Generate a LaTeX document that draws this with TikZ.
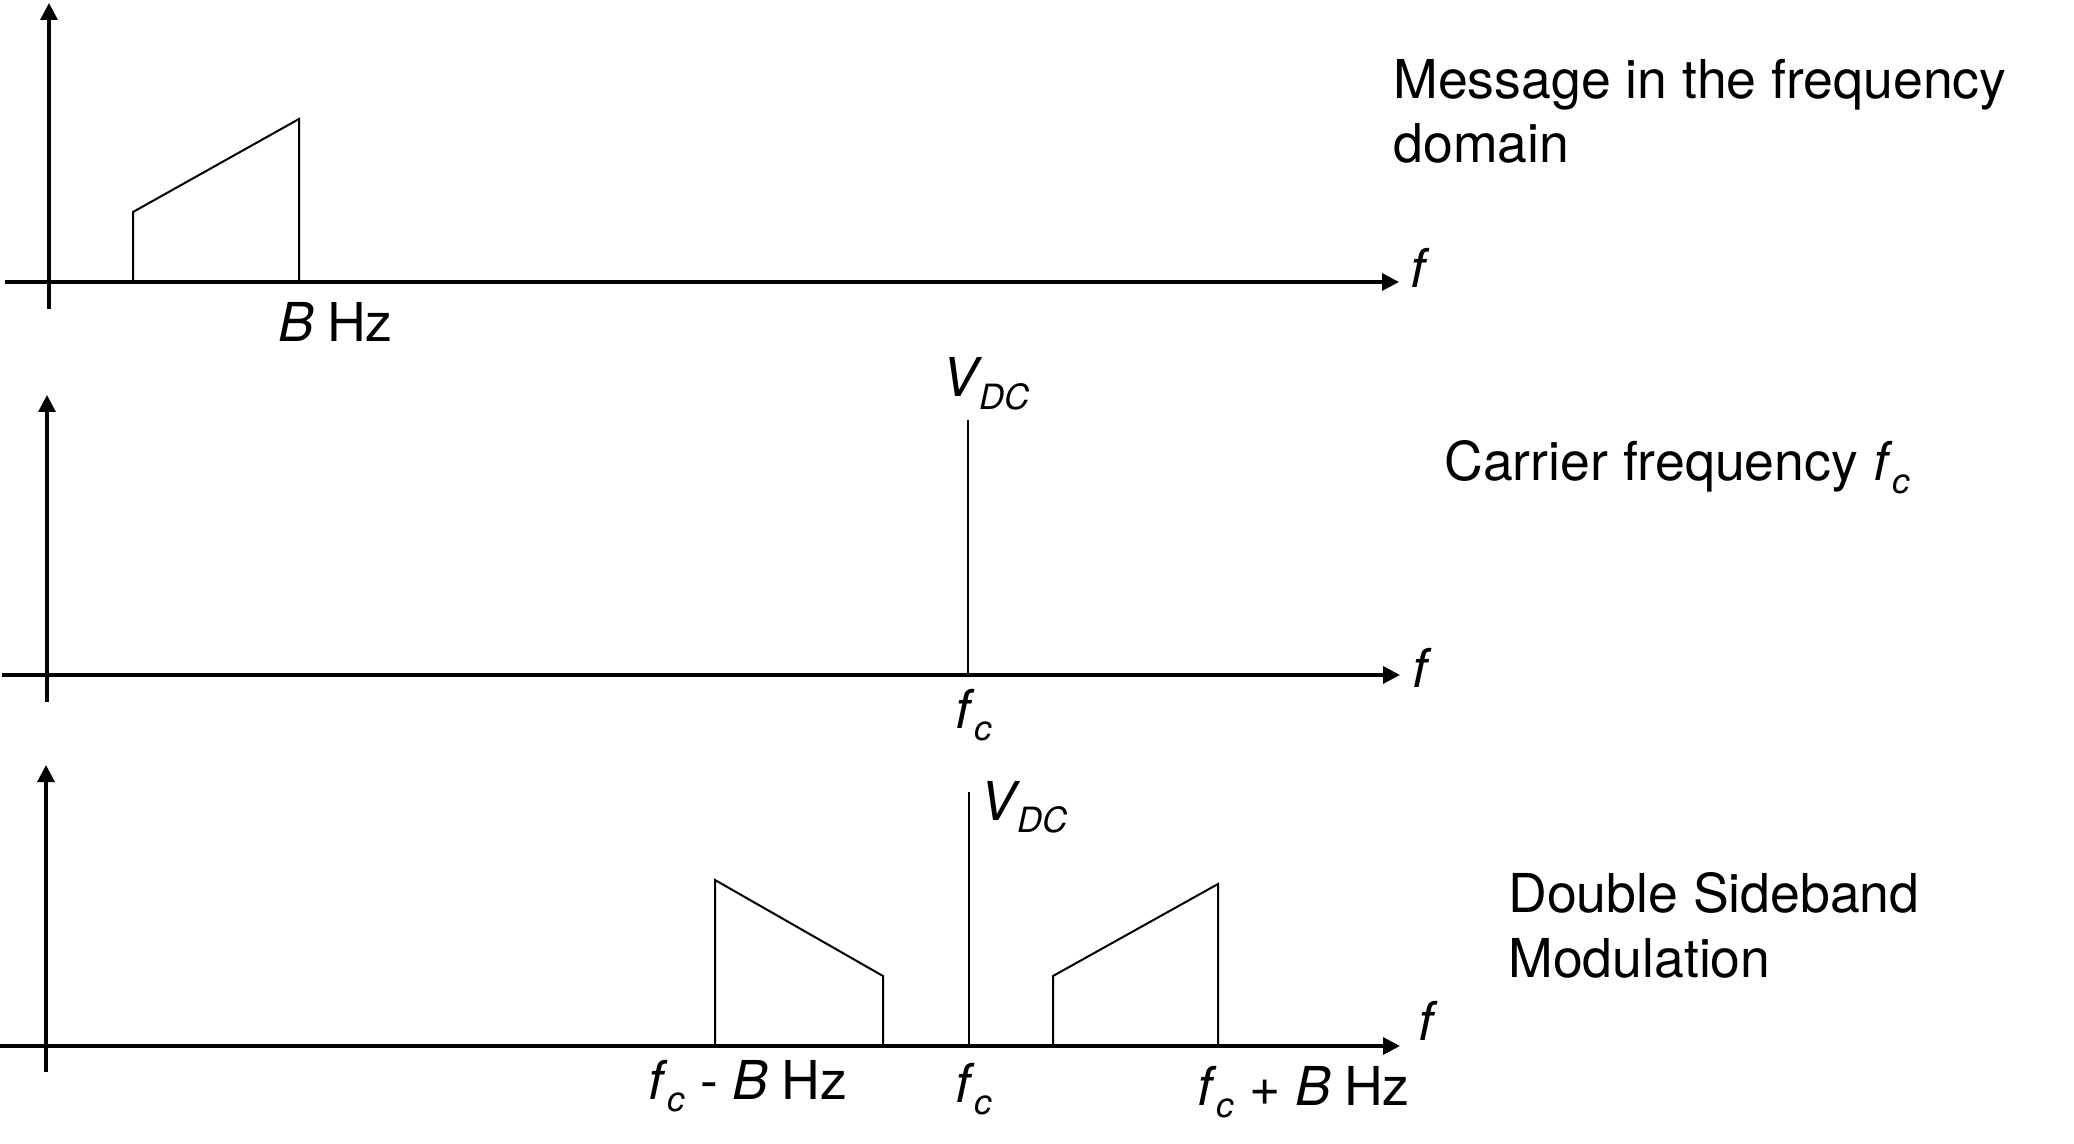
\documentclass[tikz,border=0pt]{standalone}
\usepackage{fontspec}
\setmainfont{TeX Gyre Heros}
\usetikzlibrary{arrows.meta}
\newcommand\subscr[1]{\raisebox{-6.2pt}{\fontsize{17.4pt}{17.4pt}\selectfont\itshape #1}}
\begin{document}
\begin{tikzpicture}[x=0.5pt,y=-0.5pt,
  axis/.style={line width=1.6pt,-{Triangle[length=8.5pt,width=8.5pt]}},
  spec/.style={line width=1pt,line join=miter},
  lbl/.style={anchor=base west,inner sep=0pt,font=\fontsize{26.8pt}{32pt}\selectfont}]
\fill[white] (0,0) rectangle (2074,1144);
\useasboundingbox (0,0) rectangle (2074,1144);

% titles
\node[lbl] (msgA) at (1393,99) {Message in the frequency};
\node[lbl] (msgB) at (1393,163) {domain};
\node[lbl] (car) at (1444,481) {Carrier frequency \textit{f}\subscr{c}};
\node[lbl] (dsbA) at (1508,912) {Double Sideband};
\node[lbl] (dsbB) at (1508,977) {Modulation};

% panel 1
\coordinate (v1b) at (49,309); \coordinate (v1t) at (49,3);
\coordinate (h1l) at (5,282);  \coordinate (h1r) at (1399,282);
\draw[axis] (v1b) -- (v1t);
\draw[axis] (h1l) -- (h1r);
\draw[spec] (133,282) -- (133,212) -- (299,119) -- (299,282);
\node[lbl] (bhz) at (278,342) {\textit{B}\kern-1pt\ Hz};
\node[lbl] (f1) at (1410,288) {\textit{f}};

% panel 2
\coordinate (v2b) at (47,702); \coordinate (v2t) at (47,395);
\coordinate (h2l) at (2,675);  \coordinate (h2r) at (1400,675);
\draw[axis] (v2b) -- (v2t);
\draw[axis] (h2l) -- (h2r);
\coordinate (s2b) at (968,675); \coordinate (s2t) at (968,420);
\draw[spec] (s2b) -- (s2t);
\node[lbl] (vdc2) at (942,397) {\textit{V}\kern-1.5pt\subscr{DC}};
\node[lbl] (fc2) at (955,728) {\textit{f}\subscr{c}};
\node[lbl] (f2) at (1412,688) {\textit{f}};

% panel 3
\coordinate (v3b) at (46,1072); \coordinate (v3t) at (46,765);
\coordinate (h3l) at (0,1046);  \coordinate (h3r) at (1400,1046);
\draw[axis] (v3b) -- (v3t);
\draw[axis] (h3l) -- (h3r);
\draw[spec] (715,1046) -- (715,880) -- (883,976) -- (883,1046);
\coordinate (s3b) at (969,1046); \coordinate (s3t) at (969,792);
\draw[spec] (s3b) -- (s3t);
\draw[spec] (1053,1046) -- (1053,976) -- (1218,884) -- (1218,1046);
\node[lbl] (vdc3) at (980,820) {\textit{V}\kern-1.5pt\subscr{DC}};
\node[lbl] (lsb) at (648,1099) {\textit{f}\subscr{c} - \textit{B}\kern-1pt\ Hz};
\node[lbl] (fc3) at (955,1102) {\textit{f}\subscr{c}};
\node[lbl] (usb) at (1197,1105) {\textit{f}\subscr{c} + \textit{B}\kern-1pt\ Hz};
\node[lbl] (f3) at (1418,1040) {\textit{f}};
\end{tikzpicture}
\end{document}
